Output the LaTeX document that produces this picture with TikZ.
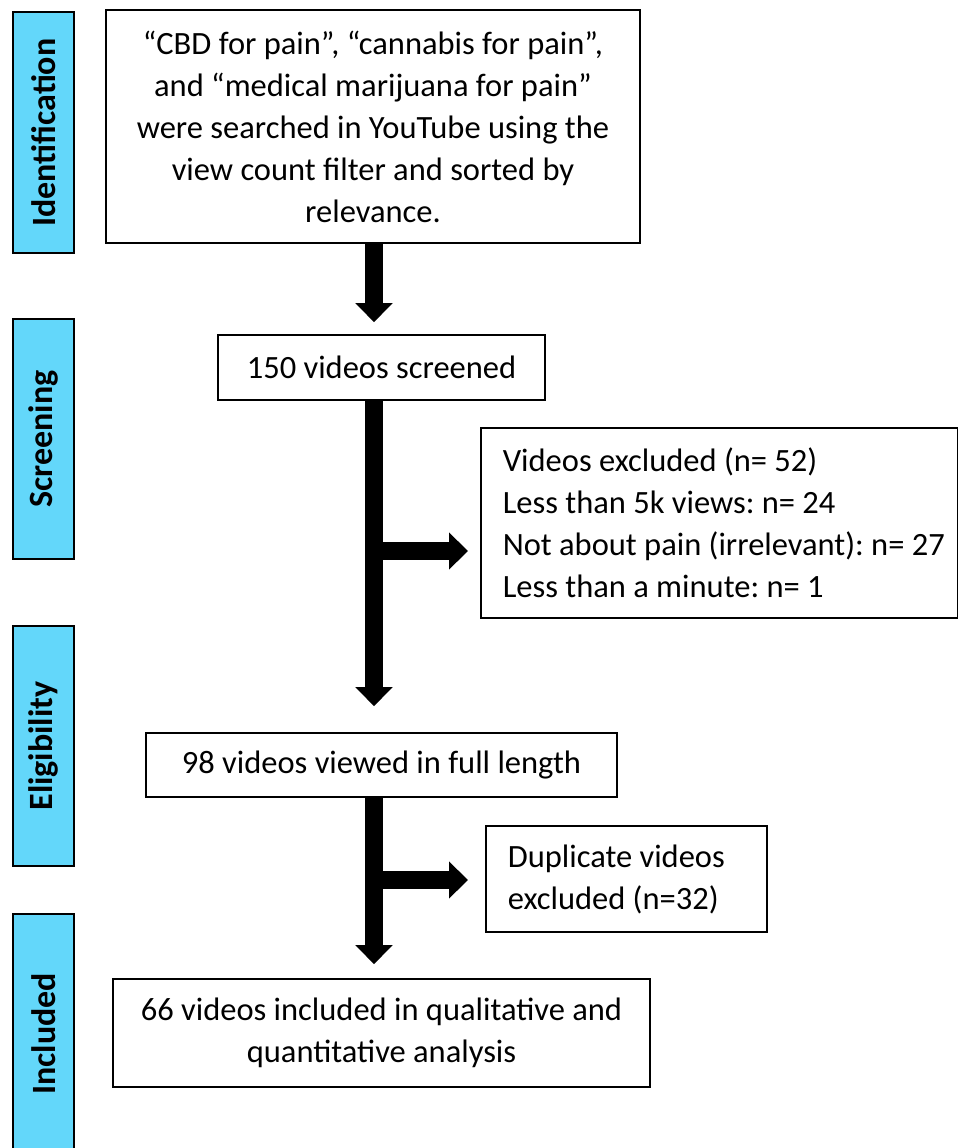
\documentclass[tikz,border=0pt]{standalone}
\usepackage{fontspec}
\setmainfont{Carlito}
\usepackage{xcolor}
\usetikzlibrary{arrows.meta}

\definecolor{barblue}{RGB}{99,215,250}
\frenchspacing

\tikzset{
  stagebar/.style={draw, line width=2pt, fill=barblue, rotate=90,
    minimum width=240pt, minimum height=61pt, inner sep=0pt,
    font=\fontsize{34}{40}\selectfont\bfseries},
  flowbox/.style={draw, line width=1.6pt, fill=white, inner sep=0pt,
    font=\fontsize{32.5}{42}\selectfont},
  bigarrow/.style={line width=18pt, -{Triangle[width=36pt,length=19pt]}}
}

\begin{document}
\begin{tikzpicture}[x=1pt,y=-1pt]
  \useasboundingbox (0,0) rectangle (958,1148);

  % Stage bars
  \node[stagebar] (idbar)   at (43.5,132.5) {Identification};
  \node[stagebar] (scrbar)  at (43.5,439)   {Screening};
  \node[stagebar] (eligbar) at (43.5,746)   {Eligibility};
  \node[stagebar] (inclbar) at (43.5,1034)  {Included};

  % Search
  \node[flowbox, minimum width=534pt, minimum height=233pt, align=center]
    (search) at (373,126.5)
    {``CBD for pain'', ``cannabis for pain'',\\
     and ``medical marijuana for pain''\\
     were searched in YouTube using the\\
     view count filter and sorted by\\
     relevance.};

  % Screened
  \node[flowbox, minimum width=327pt, minimum height=65pt]
    (screened) at (381.5,367.5) {150 videos screened};

  % Excluded
  \node[flowbox, anchor=west, minimum width=477pt, minimum height=190pt,
    text width=433pt, inner xsep=22pt, align=flush left]
    (excluded) at (480,523)
    {\mbox{Videos excluded (n= 52)}\\
     \mbox{Less than 5k views: n= 24}\\
     \mbox{Not about pain (irrelevant): n= 27}\\
     \mbox{Less than a minute: n= 1}};

  % Full length
  \node[flowbox, minimum width=471pt, minimum height=64pt]
    (viewed) at (381.5,765) {98 videos viewed in full length};

  % Duplicates
  \node[flowbox, anchor=west, minimum width=281pt, minimum height=106pt,
    text width=237pt, inner xsep=22pt, align=flush left]
    (duplicates) at (485,879)
    {Duplicate videos\\
     excluded (n=32)};

  % Included
  \node[flowbox, minimum width=537pt, minimum height=108pt, align=center]
    (included) at (381.5,1033)
    {66 videos included in qualitative and\\
     quantitative analysis};

  % Arrows
  \coordinate (split1) at (374,551);
  \coordinate (split2) at (374,880);
  \draw[bigarrow, shorten >=12pt] (search.south -| split1) -- (split1 |- screened.north);
  \draw[bigarrow, shorten >=26pt] (screened.south -| split1) -- (split1 |- viewed.north);
  \draw[bigarrow, shorten >=12pt] (split1) -- (split1 -| excluded.west);
  \draw[bigarrow, shorten >=14pt] (viewed.south -| split2) -- (split2 |- included.north);
  \draw[bigarrow, shorten >=17pt] (split2) -- (split2 -| duplicates.west);

\end{tikzpicture}
\end{document}
